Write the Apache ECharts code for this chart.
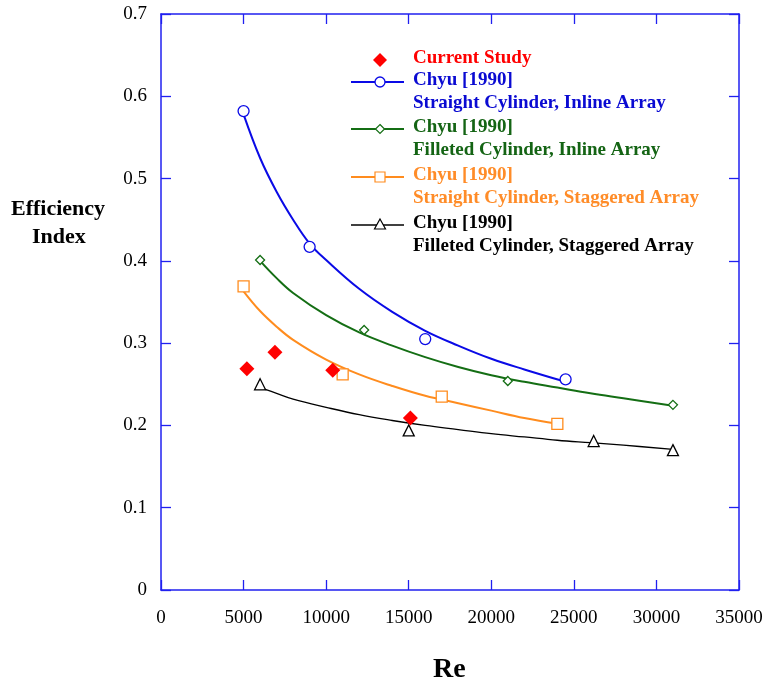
<!DOCTYPE html>
<html>
<head>
<meta charset="utf-8">
<script src="https://cdn.jsdelivr.net/npm/echarts@6/dist/echarts.min.js"></script>
<style>
  html, body { margin: 0; padding: 0; background: #fff; }
  #chart { width: 766px; height: 688px; }
</style>
</head>
<body>
<div id="chart"></div>
<script>
// Axis ticks
const reTicks = [0, 5000, 10000, 15000, 20000, 25000, 30000, 35000];
const effTicks = [0, 0.1, 0.2, 0.3, 0.4, 0.5, 0.6, 0.7];

// Measured points
const reCurrent = [5200, 6900, 10400, 15100];
const effCurrent = [0.269, 0.289, 0.267, 0.209];

const reStraightInline = [5000, 9000, 16000, 24500];
const effStraightInline = [0.582, 0.417, 0.305, 0.256];

const reFilletedInline = [6000, 12300, 21000, 31000];
const effFilletedInline = [0.401, 0.316, 0.254, 0.225];

const reStraightStaggered = [5000, 11000, 17000, 24000];
const effStraightStaggered = [0.369, 0.262, 0.235, 0.202];

const reFilletedStaggered = [6000, 15000, 26200, 31000];
const effFilletedStaggered = [0.250, 0.194, 0.181, 0.170];

// Trend curves (sampled along each fitted line)
const reFitStraightInline = [5000, 6000, 7000, 8000, 9000, 10000, 12000, 14000, 16000, 18000, 20000, 22000, 24500];
const effFitStraightInline = [0.578, 0.525, 0.484, 0.450, 0.421, 0.401, 0.366, 0.338, 0.315, 0.297, 0.281, 0.268, 0.253];

const reFitFilletedInline = [6000, 7000, 8000, 10000, 12000, 14000, 16000, 18000, 20000, 22000, 24000, 26000, 28000, 31000];
const effFitFilletedInline = [0.400, 0.379, 0.361, 0.334, 0.313, 0.297, 0.283, 0.271, 0.261, 0.253, 0.246, 0.239, 0.233, 0.224];

const reFitStraightStaggered = [5000, 6000, 7000, 8000, 10000, 12000, 14000, 16000, 18000, 20000, 22000, 24000];
const effFitStraightStaggered = [0.363, 0.339, 0.320, 0.304, 0.280, 0.262, 0.248, 0.236, 0.227, 0.218, 0.209, 0.202];

const reFitFilletedStaggered = [6000, 7000, 8000, 10000, 12000, 14000, 16000, 18000, 20000, 22000, 24000, 26000, 28000, 31000];
const effFitFilletedStaggered = [0.246, 0.239, 0.232, 0.222, 0.213, 0.206, 0.200, 0.195, 0.190, 0.186, 0.182, 0.179, 0.176, 0.171];

// Legend rows: series label lines and colours
const legendRows = [
  { lines: ['Current Study'], color: '#ff0000', text: '#ff0000', symbol: 'solidDiamond' },
  { lines: ['Chyu [1990]', 'Straight Cylinder, Inline Array'], color: '#0a0ae6', text: '#0a0ad2', symbol: 'circle' },
  { lines: ['Chyu [1990]', 'Filleted Cylinder, Inline Array'], color: '#146e14', text: '#146414', symbol: 'diamond' },
  { lines: ['Chyu [1990]', 'Straight Cylinder, Staggered Array'], color: '#ff8c1e', text: '#ff8c28', symbol: 'square' },
  { lines: ['Chyu [1990]', 'Filleted Cylinder, Staggered Array'], color: '#000000', text: '#000000', symbol: 'triangle' }
];

const zip = (xs, ys) => xs.map((x, i) => [x, ys[i]]);

const AXIS = '#2020f0';
const SERIF = '"Liberation Serif", "Times New Roman", serif';

const chart = echarts.init(document.getElementById('chart'), null, { renderer: 'canvas' });

function axisCommon(showLabels) {
  return {
    axisLine: { show: true, onZero: false, lineStyle: { color: AXIS, width: 1.5 } },
    axisTick: { show: true, inside: true, length: 10, lineStyle: { color: AXIS, width: 1.3 } },
    splitLine: { show: false },
    axisLabel: { show: showLabels, color: '#000', fontFamily: SERIF, fontSize: 19 }
  };
}

function lineSeries(name, xs, ys, color, width) {
  return {
    name, type: 'line', data: zip(xs, ys), smooth: 0.4, showSymbol: false,
    lineStyle: { color, width }, z: 2, silent: true
  };
}

function pointSeries(name, xs, ys, symbol, size, color, filled) {
  return {
    name, type: 'scatter', data: zip(xs, ys), symbol, symbolSize: size,
    itemStyle: filled
      ? { color, opacity: 1 }
      : { color: '#fff', borderColor: color, borderWidth: 1.3, opacity: 1 },
    z: 3, silent: true
  };
}

// Legend built from graphic primitives
const legendGraphics = [];
const rowY = [60, 82, 129, 177, 225];
const lineGap = 23;
const symX = 380, txtX = 413, lineX0 = 351, lineX1 = 404;
legendRows.forEach((row, i) => {
  const y = rowY[i];
  if (row.symbol !== 'solidDiamond') {
    legendGraphics.push({
      type: 'line', shape: { x1: lineX0, y1: y, x2: lineX1, y2: y },
      style: { stroke: row.color, lineWidth: i === 4 ? 1.3 : 2 }, z: 10
    });
  }
  if (row.symbol === 'solidDiamond') {
    legendGraphics.push({ type: 'polygon', shape: { points: [[symX, y - 7], [symX + 7, y], [symX, y + 7], [symX - 7, y]] }, style: { fill: row.color }, z: 11 });
  } else if (row.symbol === 'circle') {
    legendGraphics.push({ type: 'circle', shape: { cx: symX, cy: y, r: 5 }, style: { fill: '#fff', stroke: row.color, lineWidth: 1.3 }, z: 11 });
  } else if (row.symbol === 'diamond') {
    legendGraphics.push({ type: 'polygon', shape: { points: [[symX, y - 4.5], [symX + 4.5, y], [symX, y + 4.5], [symX - 4.5, y]] }, style: { fill: '#fff', stroke: row.color, lineWidth: 1.2 }, z: 11 });
  } else if (row.symbol === 'square') {
    legendGraphics.push({ type: 'rect', shape: { x: symX - 5, y: y - 5, width: 10, height: 10 }, style: { fill: '#fff', stroke: row.color, lineWidth: 1.2 }, z: 11 });
  } else if (row.symbol === 'triangle') {
    legendGraphics.push({ type: 'polygon', shape: { points: [[symX, y - 6], [symX + 5.5, y + 4], [symX - 5.5, y + 4]] }, style: { fill: '#fff', stroke: row.color, lineWidth: 1.2 }, z: 11 });
  }
  row.lines.forEach((t, k) => {
    legendGraphics.push({
      type: 'text', left: txtX, top: y + k * lineGap - 11, z: 12,
      style: { text: t, fill: row.text, font: 'bold 19px ' + SERIF }
    });
  });
});

const option = {
  backgroundColor: '#fff',
  animation: false,
  grid: { left: 161, right: 27, top: 14, bottom: 98, containLabel: false },
  xAxis: [
    Object.assign({ type: 'value', position: 'bottom', min: reTicks[0], max: reTicks[reTicks.length - 1], interval: 5000 }, axisCommon(true), {
      axisLabel: { show: true, color: '#000', fontFamily: SERIF, fontSize: 19, margin: 19, formatter: v => String(v) }
    }),
    Object.assign({ type: 'value', position: 'top', min: reTicks[0], max: reTicks[reTicks.length - 1], interval: 5000 }, axisCommon(false))
  ],
  yAxis: [
    Object.assign({ type: 'value', position: 'left', min: effTicks[0], max: effTicks[effTicks.length - 1], interval: 0.1 }, axisCommon(true), {
      axisLabel: { show: true, color: '#000', fontFamily: SERIF, fontSize: 19, margin: 14, formatter: v => (v === 0 ? '0' : v.toFixed(1)) }
    }),
    Object.assign({ type: 'value', position: 'right', min: effTicks[0], max: effTicks[effTicks.length - 1], interval: 0.1 }, axisCommon(false))
  ],
  series: [
    lineSeries('Straight Cylinder, Inline Array fit', reFitStraightInline, effFitStraightInline, '#0a0ae6', 2),
    lineSeries('Filleted Cylinder, Inline Array fit', reFitFilletedInline, effFitFilletedInline, '#146e14', 2),
    lineSeries('Straight Cylinder, Staggered Array fit', reFitStraightStaggered, effFitStraightStaggered, '#ff8c1e', 2),
    lineSeries('Filleted Cylinder, Staggered Array fit', reFitFilletedStaggered, effFitFilletedStaggered, '#000000', 1.3),
    pointSeries('Straight Cylinder, Inline Array', reStraightInline, effStraightInline, 'circle', 11, '#0a0ae6', false),
    pointSeries('Filleted Cylinder, Inline Array', reFilletedInline, effFilletedInline, 'diamond', 9, '#146e14', false),
    pointSeries('Straight Cylinder, Staggered Array', reStraightStaggered, effStraightStaggered, 'rect', 11, '#ff8c1e', false),
    pointSeries('Filleted Cylinder, Staggered Array', reFilletedStaggered, effFilletedStaggered, 'triangle', 11, '#000000', false),
    pointSeries('Current Study', reCurrent, effCurrent, 'diamond', 15, '#ff0000', true)
  ],
  graphic: legendGraphics.concat([
    { type: 'text', left: 11, top: 198, z: 12, style: { text: 'Efficiency', fill: '#000', font: 'bold 22px ' + SERIF } },
    { type: 'text', left: 32, top: 226, z: 12, style: { text: 'Index', fill: '#000', font: 'bold 22px ' + SERIF } },
    { type: 'text', left: 433, top: 656, z: 12, style: { text: 'Re', fill: '#000', font: 'bold 28px ' + SERIF } }
  ])
};

chart.setOption(option);
</script>
</body>
</html>
